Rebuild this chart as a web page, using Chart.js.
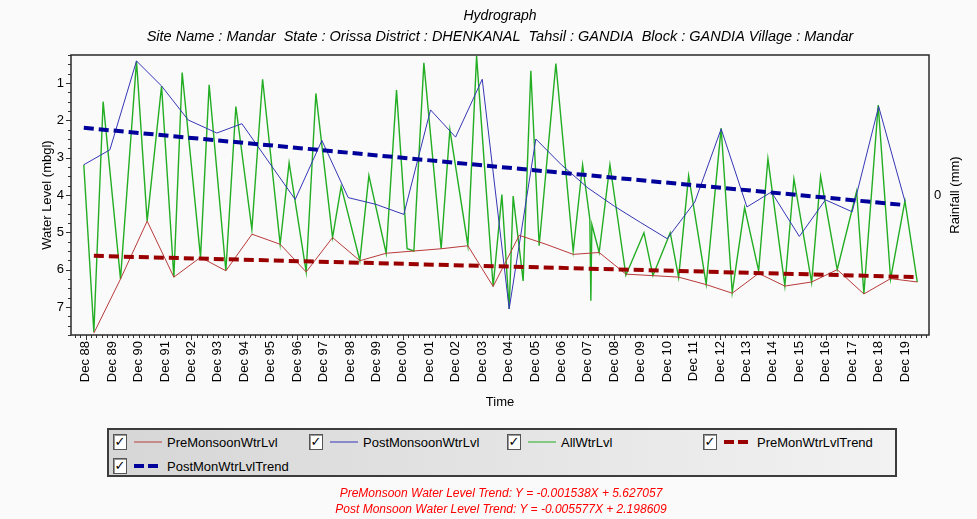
<!DOCTYPE html>
<html>
<head>
<meta charset="utf-8">
<title>Hydrograph</title>
<script src="https://cdn.jsdelivr.net/npm/chart.js@4.4.1/dist/chart.umd.min.js"></script>
<style>
  body { margin: 0; background: #fafafa; font-family: 'Liberation Sans', Arial, sans-serif; }
  #wrap { position: relative; width: 977px; height: 519px; overflow: hidden; }
  #legend {
    position: absolute; left: 107px; top: 428px; width: 786px; height: 45px;
    border: 2px solid #3c3c3c;
    background: linear-gradient(to right, #d6d6d6, #f2f2f2);
  }
  .lg-item { position: absolute; display: flex; align-items: center; height: 18px; font-size: 13px; color: #000; white-space: nowrap; cursor: pointer; }
  .lg-box {
    width: 12px; height: 14px; background: #fff; border: 1px solid #555;
    box-shadow: inset 1px 1px 0 #999; font-size: 13px; line-height: 14px;
    text-align: center; font-weight: bold; margin-right: 7px; font-family: 'DejaVu Sans', sans-serif;
  }
  .lg-item svg { margin-right: 5px; }
  #trendText {
    position: absolute; left: 0; width: 1002px; top: 485px; text-align: center;
    color: #ff0000; font-style: italic; font-size: 12px; line-height: 16px;
  }
</style>
</head>
<body>
<div id="wrap">
  <canvas id="hydro" width="977" height="519"></canvas>
  <div id="legend"></div>
  <div id="trendText">
    <div>PreMonsoon Water Level Trend: Y = -0.001538X + 5.627057</div>
    <div>Post Monsoon Water Level Trend: Y = -0.005577X + 2.198609</div>
  </div>
</div>
<script>
const FONT = "'Liberation Sans', Arial, sans-serif";
Chart.defaults.font.family = FONT;
Chart.defaults.color = '#000';

// x axis labels (one per December)
const xTickLabels = ['Dec 88', 'Dec 89', 'Dec 90', 'Dec 91', 'Dec 92', 'Dec 93', 'Dec 94', 'Dec 95',
  'Dec 96', 'Dec 97', 'Dec 98', 'Dec 99', 'Dec 00', 'Dec 01', 'Dec 02', 'Dec 03', 'Dec 04', 'Dec 05',
  'Dec 06', 'Dec 07', 'Dec 08', 'Dec 09', 'Dec 10', 'Dec 11', 'Dec 12', 'Dec 13', 'Dec 14', 'Dec 15',
  'Dec 16', 'Dec 17', 'Dec 18', 'Dec 19'];
const yTicks = [1, 2, 3, 4, 5, 6, 7];

// pre-monsoon water level (mbgl)
const preDates = ['1989-03-24', '1990-03-27', '1991-03-30', '1992-04-02', '1993-04-06', '1994-03-22',
  '1995-03-18', '1996-04-10', '1997-04-05', '1998-04-04', '1999-04-16', '2000-04-14', '2001-05-02',
  '2002-05-14', '2003-05-18', '2004-05-01', '2005-04-27', '2006-05-01', '2007-05-12', '2008-05-05',
  '2009-05-10', '2010-05-18', '2011-05-08', '2012-05-23', '2013-05-18', '2014-05-18', '2015-05-15',
  '2016-05-19', '2017-05-08', '2018-05-11', '2019-05-15', '2020-05-18'];
const preLevels = [7.70, 6.25, 4.70, 6.20, 5.67, 6.03, 5.05, 5.32, 6.06, 5.14, 5.76, 5.56, 5.50,
  5.44, 5.36, 6.45, 5.08, 5.32, 5.59, 5.54, 6.12, 6.16, 6.20, 6.40, 6.63, 6.10, 6.44,
  6.33, 6.00, 6.65, 6.24, 6.33];

// post-monsoon water level (mbgl), no reading in 1995
const postDates = ['1988-11-05', '1989-10-31', '1990-11-03', '1991-10-15', '1992-10-17', '1993-11-17',
  '1994-10-29', '1996-11-04', '1997-11-08', '1998-11-06', '1999-11-23', '2000-12-14', '2001-12-18',
  '2002-11-29', '2003-12-02', '2004-12-09', '2005-12-12', '2006-11-30', '2007-12-01', '2008-12-01',
  '2009-12-01', '2010-12-01', '2011-12-17', '2012-12-16', '2013-12-07', '2014-11-10', '2015-12-01',
  '2016-11-26', '2017-12-01', '2018-12-01', '2019-12-01'];
const postLevels = [3.19, 2.79, 0.41, 1.08, 1.99, 2.34, 2.09, 4.12, 2.54, 4.07, 4.25, 4.52, 1.72,
  2.45, 0.90, 7.05, 2.50, 3.19, 3.81, 4.30, 4.74, 5.17, 4.19, 2.23, 4.32, 3.92, 5.11,
  4.13, 4.45, 1.63, 4.18];

// all water level readings (mbgl)
const allDates = ['1988-11-05', '1989-03-24', '1989-07-30', '1990-03-27', '1990-11-03', '1991-03-30',
  '1991-10-15', '1992-04-02', '1992-07-26', '1993-04-06', '1993-08-03', '1994-03-22', '1994-08-07',
  '1995-03-16', '1995-08-11', '1996-04-10', '1996-08-12', '1997-04-05', '1997-08-17', '1998-04-04',
  '1998-08-01', '1999-04-16', '1999-08-19', '2000-04-14', '2000-09-04', '2001-01-29', '2001-05-02',
  '2001-09-17', '2002-05-14', '2002-09-11', '2003-05-18', '2003-09-15', '2004-05-01', '2004-08-30',
  '2004-12-09', '2005-02-02', '2005-06-20', '2005-10-04', '2006-01-27', '2006-09-15', '2007-05-12',
  '2007-09-19', '2007-12-28', '2008-01-11', '2008-01-25', '2008-05-05', '2008-10-01', '2009-05-10',
  '2010-01-14', '2010-05-18', '2011-01-12', '2011-05-08', '2011-09-23', '2012-05-23', '2012-12-16',
  '2013-05-18', '2013-11-05', '2014-05-18', '2014-09-23', '2015-05-15', '2015-09-17', '2016-05-19',
  '2016-09-20', '2017-05-08', '2018-01-31', '2018-05-11', '2018-11-25', '2019-05-15', '2019-11-29',
  '2020-05-18'];
const allLevels = [3.19, 7.67, 1.50, 6.25, 0.41, 4.70, 1.08, 6.20, 0.72, 5.67, 1.05, 6.03, 1.63,
  4.92, 0.90, 5.32, 3.14, 6.06, 1.28, 5.14, 3.77, 5.76, 3.48, 5.56, 1.19, 5.44, 5.50,
  0.46, 5.44, 2.25, 5.35, 0.28, 6.45, 3.99, 7.05, 4.03, 6.30, 0.67, 5.36, 0.48, 5.50,
  3.19, 4.65, 6.83, 4.79, 5.54, 3.19, 6.15, 5.01, 6.16, 5.01, 6.21, 3.48, 6.39, 2.21,
  6.61, 4.34, 6.03, 3.03, 6.43, 3.57, 6.34, 3.50, 6.00, 3.90, 6.65, 1.59, 6.25, 4.16,
  6.33];

// trend line end points
const preTrendDates = ['1989-03-24', '2020-05-18'];
const preTrendLevels = [5.63, 6.20];
const postTrendDates = ['1988-11-05', '2019-12-01'];
const postTrendLevels = [2.20, 4.27];

function decYear(s) {
  const [y, m, d] = s.split('-').map(Number);
  const start = Date.UTC(y, 0, 1), end = Date.UTC(y + 1, 0, 1);
  return y + (Date.UTC(y, m - 1, d) - start) / (end - start);
}
function pts(dates, levels) {
  return dates.map((d, i) => ({ x: decYear(d), y: levels[i] }));
}
function labelYear(lbl) {
  const yy = Number(lbl.slice(4));
  return yy > 50 ? 1900 + yy : 2000 + yy;
}
const xTickValues = xTickLabels.map(l => decYear(labelYear(l) + '-12-01'));

const axisDecor = {
  id: 'axisDecor',
  afterDatasetsDraw(chart) {
    const { ctx, chartArea: a, scales: { x, y, y2 } } = chart;
    ctx.save();
    ctx.strokeStyle = '#333';
    ctx.lineWidth = 1;
    ctx.beginPath();
    // x ticks: major at Dec, 4 minor in between
    const step = 0.2;
    for (let v = xTickValues[0] - 5 * step; v <= x.max; v += step) {
      if (v < x.min) continue;
      const major = xTickValues.some(t => Math.abs(t - v) < 1e-6);
      const px = Math.round(x.getPixelForValue(v)) + 0.5;
      ctx.moveTo(px, a.bottom);
      ctx.lineTo(px, a.bottom + (major ? 5 : 3));
    }
    // y ticks: major at integers, minor every 0.25
    for (let v = y.min; v <= y.max + 1e-9; v += 0.25) {
      const major = Math.abs(v - Math.round(v)) < 1e-6;
      const py = Math.round(y.getPixelForValue(v)) + 0.5;
      ctx.moveTo(a.left, py);
      ctx.lineTo(a.left - (major ? 5 : 3), py);
    }
    ctx.stroke();
    // frame
    ctx.lineWidth = 1.5;
    ctx.strokeStyle = '#2a2a2a';
    ctx.strokeRect(a.left, a.top, a.right - a.left, a.bottom - a.top);
    // right axis title, reads bottom to top
    ctx.translate(y2.left + 26, (a.top + a.bottom) / 2);
    ctx.rotate(-Math.PI / 2);
    ctx.fillStyle = '#000';
    ctx.font = '13px ' + FONT;
    ctx.textAlign = 'center';
    ctx.textBaseline = 'middle';
    ctx.fillText('Rainfall (mm)', 0, 0);
    ctx.restore();
  }
};

const chart = new Chart(document.getElementById('hydro'), {
  type: 'line',
  data: {
    datasets: [
      { label: 'PreMonsoonWtrLvl', data: pts(preDates, preLevels), borderColor: '#b83a3a', borderWidth: 1, order: 1 },
      { label: 'PostMonsoonWtrLvl', data: pts(postDates, postLevels), borderColor: '#3535b5', borderWidth: 1, order: 1 },
      { label: 'AllWtrLvl', data: pts(allDates, allLevels), borderColor: '#22ad22', borderWidth: 1.4, order: 2 },
      { label: 'PreMonWtrLvlTrend', data: pts(preTrendDates, preTrendLevels), borderColor: '#9a0000', borderWidth: 4, borderDash: [10, 5], order: 0 },
      { label: 'PostMonWtrLvlTrend', data: pts(postTrendDates, postTrendLevels), borderColor: '#00009a', borderWidth: 4, borderDash: [10, 5], order: 0 }
    ]
  },
  options: {
    responsive: false,
    devicePixelRatio: 1,
    animation: false,
    layout: { padding: { left: 0, right: 0, top: 0, bottom: 107 } },
    elements: { point: { radius: 0 }, line: { tension: 0, fill: false } },
    plugins: {
      legend: { display: false },
      tooltip: { enabled: false },
      title: {
        display: true, fullSize: false, text: 'Hydrograph', color: '#000',
        font: { size: 14, style: 'italic', weight: 'normal' },
        padding: { top: 8, bottom: 3 }
      },
      subtitle: {
        display: true, fullSize: false, color: '#000',
        text: 'Site Name : Mandar  State : Orissa District : DHENKANAL  Tahsil : GANDIA  Block : GANDIA Village : Mandar',
        font: { size: 14.5, style: 'italic' },
        padding: { top: 0, bottom: 9.8 }
      }
    },
    scales: {
      x: {
        type: 'linear', position: 'bottom',
        min: 1988.36, max: 2020.82,
        afterBuildTicks: s => { s.ticks = xTickValues.map(v => ({ value: v })); },
        afterFit: s => { s.height = 77; },
        ticks: {
          autoSkip: false, minRotation: 90, maxRotation: 90, padding: 6,
          font: { size: 13 },
          callback: (v, i) => xTickLabels[i]
        },
        grid: { display: false, drawTicks: false },
        border: { display: false },
        title: { display: true, text: 'Time', font: { size: 13 }, padding: { top: 0, bottom: 2 } }
      },
      y: {
        position: 'left', reverse: true,
        min: 0.25, max: 7.75,
        afterBuildTicks: s => { s.ticks = yTicks.map(v => ({ value: v })); },
        afterFit: s => { s.width = 71; },
        ticks: { font: { size: 13 }, padding: 7 },
        grid: { display: false, drawTicks: false },
        border: { display: false },
        title: { display: true, text: 'Water Level (mbgl)', font: { size: 13 }, padding: { top: 40, bottom: 0 } }
      },
      y2: {
        position: 'right',
        min: -1, max: 1,
        afterBuildTicks: s => { s.ticks = [{ value: 0 }]; },
        afterFit: s => { s.width = 48; },
        ticks: { font: { size: 13 }, padding: 5 },
        grid: { display: false, drawTicks: false },
        border: { display: false }
      }
    }
  },
  plugins: [axisDecor]
});

// legend in the style of the original, with check boxes
const legendCols = [4, 200, 398, 594];
const legendRows = [3, 27];
const legend = document.getElementById('legend');
chart.data.datasets.forEach((ds, i) => {
  const item = document.createElement('div');
  item.className = 'lg-item';
  item.style.left = legendCols[i % 4] + 'px';
  item.style.top = legendRows[Math.floor(i / 4)] + 'px';
  const dash = ds.borderDash ? `stroke-dasharray="10 4"` : '';
  const w = ds.borderDash ? 4 : 1;
  item.innerHTML = `<span class="lg-box">✓</span>` +
    `<svg width="28" height="8"><line x1="0" y1="4" x2="28" y2="4" stroke="${ds.borderColor}" stroke-width="${w}" ${dash}/></svg>` +
    `<span>${ds.label}</span>`;
  item.addEventListener('click', () => {
    const vis = !chart.isDatasetVisible(i);
    chart.setDatasetVisibility(i, vis);
    item.querySelector('.lg-box').textContent = vis ? '✓' : '';
    chart.update();
  });
  legend.appendChild(item);
});
</script>
</body>
</html>
